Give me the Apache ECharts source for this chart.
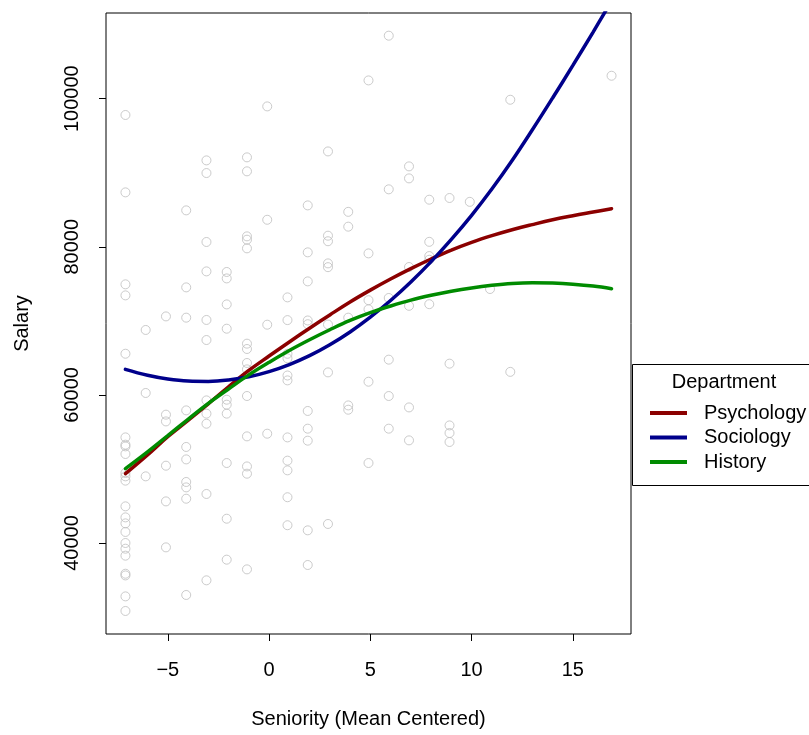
<!DOCTYPE html>
<html>
<head>
<meta charset="utf-8">
<title>Salary by Seniority</title>
<script src="https://cdn.jsdelivr.net/npm/echarts@6/dist/echarts.min.js"></script>
<style>
  html, body { margin: 0; padding: 0; background: #fff; }
  #chart { width: 809px; height: 735px; }
</style>
</head>
<body>
<div id="chart"></div>
<script>
// Individual faculty members: seniority (mean centred) and salary
const seniority = [
  -7.09,-7.09,-7.09,-7.09,-7.09,-7.09,-7.09,-7.09,-7.09,-7.09,-7.09,-7.09,-7.09,-7.09,-7.09,-7.09,-7.09,-7.09,-7.09,-7.09,-7.09,-7.09,-7.09,
  -6.09,-6.09,-6.09,
  -5.09,-5.09,-5.09,-5.09,-5.09,-5.09,
  -4.09,-4.09,-4.09,-4.09,-4.09,-4.09,-4.09,-4.09,-4.09,-4.09,
  -3.09,-3.09,-3.09,-3.09,-3.09,-3.09,-3.09,-3.09,-3.09,-3.09,-3.09,
  -2.09,-2.09,-2.09,-2.09,-2.09,-2.09,-2.09,-2.09,-2.09,-2.09,
  -1.09,-1.09,-1.09,-1.09,-1.09,-1.09,-1.09,-1.09,-1.09,-1.09,-1.09,-1.09,-1.09,-1.09,
  -0.09,-0.09,-0.09,-0.09,
  0.91,0.91,0.91,0.91,0.91,0.91,0.91,0.91,0.91,0.91,0.91,
  1.91,1.91,1.91,1.91,1.91,1.91,1.91,1.91,1.91,1.91,
  2.91,2.91,2.91,2.91,2.91,2.91,2.91,2.91,
  3.91,3.91,3.91,3.91,3.91,
  4.91,4.91,4.91,4.91,4.91,4.91,
  5.91,5.91,5.91,5.91,5.91,5.91,
  6.91,6.91,6.91,6.91,6.91,6.91,
  7.91,7.91,7.91,7.91,7.91,
  8.91,8.91,8.91,8.91,8.91,
  9.91,
  10.91,
  11.91,11.91,
  16.91
];
const salary = [
  97800,87350,74930,73440,65560,54260,53280,53050,52020,49460,49000,48420,44950,43460,42650,41490,40000,39230,38290,35850,35620,32790,30820,
  68770,60260,49000,
  70600,57330,56420,50440,45620,39410,
  84920,74520,70430,57910,52970,51290,48240,47510,45980,32980,
  91670,89960,80650,76680,70120,67410,59260,57470,56110,46620,34960,
  76600,75730,72220,68940,59350,58680,57470,50800,43280,37750,
  92080,90190,81410,80960,79790,66920,66200,64310,63450,59850,54400,50340,49360,36440,
  98960,83650,69480,54760,
  73170,70100,65550,64940,62620,61960,54260,51120,49810,46180,42400,
  85590,79250,75330,70050,69550,57830,55440,53820,41710,37030,
  92880,81500,80750,77760,77250,69500,63040,42570,
  84720,82720,70430,58580,58000,
  102470,79110,72790,71560,61780,50800,
  108510,87760,73090,64760,59850,55440,
  90860,89240,77270,72030,58310,53860,
  86360,80670,78750,78250,72250,
  86590,64220,55880,54850,53640,
  86070,
  74300,
  99860,63110,
  103100
];

// Fitted salary curve for each department, sampled along seniority
const department = ['Psychology', 'Sociology', 'History'];
const curveX = [-7.09, -6, -5, -4, -3, -2, -1, 0, 1, 2, 3, 4, 5, 6, 7, 8, 9, 10, 11, 12, 13, 14, 15, 16, 16.91];
const psychY = [49360, 51900, 54350, 56550, 58800, 61100, 63300, 65250, 67150, 69000, 70800, 72550, 74150,
                75650, 77050, 78350, 79550, 80600, 81500, 82300, 83000, 83650, 84200, 84700, 85150];
const socioY = [63450, 62650, 62150, 61870, 61820, 62010, 62450, 63150, 64100, 65300, 66770, 68500, 70500,
                72750, 75250, 78000, 81000, 84250, 87800, 91650, 95800, 100100, 104500, 109000, 113200];
const histY  = [50040, 52300, 54500, 56700, 58850, 60800, 62700, 64400, 66000, 67450, 68800, 70050, 71100,
                72000, 72800, 73450, 74000, 74450, 74800, 75050, 75150, 75100, 74950, 74700, 74340];

const xTicks = [-5, 0, 5, 10, 15];
const yTicks = [40000, 60000, 80000, 100000];
const lineColors = ['#8B0000', '#00008B', '#008B00'];

const FONT = '"Liberation Sans", Arial, Helvetica, sans-serif';

function pairs(xs, ys) {
  return xs.map((x, i) => [x, ys[i]]);
}

const curves = [pairs(curveX, psychY), pairs(curveX, socioY), pairs(curveX, histY)];

const chart = echarts.init(document.getElementById('chart'), null, { renderer: 'canvas' });

chart.setOption({
  animation: false,
  backgroundColor: '#ffffff',
  textStyle: { fontFamily: FONT },
  grid: {
    left: 106, top: 13, right: 178, bottom: 101,
    show: true, borderColor: '#000', borderWidth: 1, backgroundColor: 'transparent'
  },
  xAxis: {
    type: 'value',
    min: -8.05, max: 17.87,
    name: 'Seniority (Mean Centered)',
    nameLocation: 'middle',
    nameGap: 75,
    nameTextStyle: { fontFamily: FONT, fontSize: 20, color: '#000' },
    axisLine: { show: false, onZero: false },
    axisTick: { show: true, length: 7, lineStyle: { color: '#000', width: 1 }, customValues: xTicks },
    axisLabel: {
      customValues: xTicks, fontFamily: FONT, fontSize: 20, color: '#000', margin: 26,
      formatter: v => (v < 0 ? '\u2212' + Math.abs(v) : String(v))
    },
    splitLine: { show: false }
  },
  yAxis: {
    type: 'value',
    min: 27711, max: 111573,
    name: 'Salary',
    nameLocation: 'middle',
    nameRotate: 90,
    nameGap: 74,
    nameTextStyle: { fontFamily: FONT, fontSize: 20, color: '#000' },
    axisLine: { show: false, onZero: false },
    axisTick: { show: true, length: 7, lineStyle: { color: '#000', width: 1 }, customValues: yTicks },
    axisLabel: {
      customValues: yTicks, rotate: 90, fontFamily: FONT, fontSize: 20, color: '#000', margin: 24,
      formatter: v => String(v)
    },
    splitLine: { show: false }
  },
  legend: {
    data: department.map(d => ({ name: d, icon: 'rect' })),
    orient: 'vertical',
    left: 650, top: 403,
    padding: 0,
    itemWidth: 37, itemHeight: 4, itemGap: 4.5,
    textStyle: { fontFamily: FONT, fontSize: 20, color: '#000', lineHeight: 20, padding: [0, 0, 0, 12] },
    selectedMode: false
  },
  graphic: [
    {
      type: 'rect', z: 100,
      shape: { x: 632.5, y: 364.5, width: 200, height: 121 },
      style: { fill: 'none', stroke: '#000', lineWidth: 1 }
    },
    {
      type: 'text', z: 100, x: 724, y: 382,
      style: { text: 'Department', font: '20px ' + FONT, fill: '#000', align: 'center', verticalAlign: 'middle' }
    }
  ],
  series: [
    {
      name: 'Faculty',
      type: 'scatter',
      data: pairs(seniority, salary),
      symbol: 'circle',
      symbolSize: 9,
      itemStyle: { color: 'transparent', borderColor: '#BEBEBE', borderWidth: 1 },
      z: 1,
      silent: true
    }
  ].concat(department.map((d, i) => ({
    name: d,
    type: 'line',
    data: curves[i],
    smooth: 0.4,
    symbol: 'none',
    clip: true,
    lineStyle: { color: lineColors[i], width: 3.5, cap: 'round' },
    itemStyle: { color: lineColors[i] },
    z: 2 + i
  })))
});
</script>
</body>
</html>
